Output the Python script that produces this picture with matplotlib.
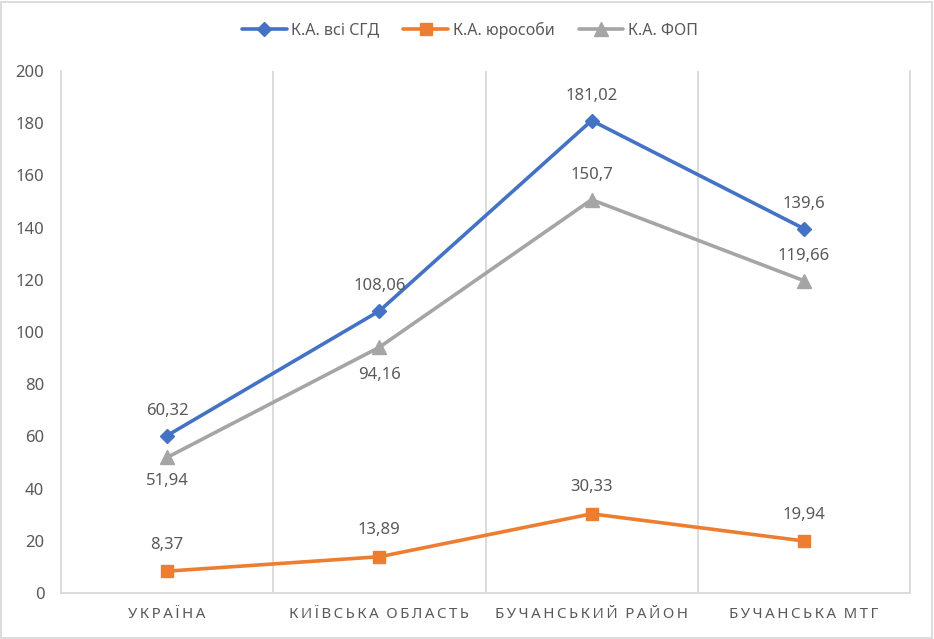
import matplotlib.pyplot as plt
from matplotlib.patches import Rectangle

categories = ['УКРАЇНА', 'КИЇВСЬКА ОБЛАСТЬ', 'БУЧАНСЬКИЙ РАЙОН', 'БУЧАНСЬКА МТГ']
series_names = ['К.А. всі СГД', 'К.А. юрособи', 'К.А. ФОП']
all_sgd = [60.32, 108.06, 181.02, 139.6]
legal = [8.37, 13.89, 30.33, 19.94]
fop = [51.94, 94.16, 150.7, 119.66]
y_ticks = [0, 20, 40, 60, 80, 100, 120, 140, 160, 180, 200]

plt.rcParams['font.family'] = ['Noto Sans', 'DejaVu Sans']
text_color = '#595959'
grid_color = '#d9d9d9'


def fmt(v):
    return ('%g' % v).replace('.', ',')


def spaced(s):
    return '\u2009'.join(s).replace('\u2009 \u2009', '\u2009\u2009\u2009')


fig = plt.figure(figsize=(9.34, 6.39), dpi=100)
ax = fig.add_axes([61 / 934, 1 - 593 / 639, 849 / 934, 522 / 639])

x = list(range(len(categories)))
styles = [
    (all_sgd, '#4472C4', 'D', 7.5),
    (legal, '#ED7D31', 's', 9),
    (fop, '#A5A5A5', '^', 9.5),
]
for (vals, color, marker, ms), name in zip(styles, series_names):
    ax.plot(x, vals, color=color, lw=2.6, marker=marker, ms=ms, label=name,
            solid_capstyle='round', zorder=3)

# data labels: above, except the grey series at the first two points
fs = 12
for i, v in enumerate(all_sgd):
    ax.annotate(fmt(v), (i, v), xytext=(0, 18), textcoords='offset points',
                ha='center', va='center', fontsize=fs, color=text_color)
for i, v in enumerate(legal):
    ax.annotate(fmt(v), (i, v), xytext=(0, 19), textcoords='offset points',
                ha='center', va='center', fontsize=fs, color=text_color)
fop_offsets = [-17, -20, 18, 18]
for i, v in enumerate(fop):
    ax.annotate(fmt(v), (i, v), xytext=(0, fop_offsets[i]), textcoords='offset points',
                ha='center', va='center', fontsize=fs, color=text_color)

ax.set_xlim(-0.5, len(categories) - 0.5)
ax.set_ylim(0, 200)
ax.set_yticks(y_ticks)
ax.set_xticks(x)
ax.set_xticklabels([spaced(c) for c in categories])
ax.tick_params(axis='y', length=0, pad=12, labelsize=12, labelcolor=text_color)
ax.tick_params(axis='x', length=0, pad=10, labelsize=10.8, labelcolor=text_color)

for xv in [0.5, 1.5, 2.5]:
    ax.axvline(xv, color=grid_color, lw=1.3, zorder=1)
for side in ['left', 'right', 'bottom']:
    ax.spines[side].set_color(grid_color)
    ax.spines[side].set_linewidth(1.3)
ax.spines['top'].set_visible(False)

fig.legend(loc='center', bbox_to_anchor=(470 / 934, 1 - 30 / 639), ncol=3,
           frameon=False, fontsize=11.5, handlelength=2.8, handletextpad=0.3,
           columnspacing=1.5, labelcolor=text_color)

fig.patches.append(Rectangle((0.001, 0.002), 0.997, 0.995, transform=fig.transFigure,
                             fill=False, edgecolor=grid_color, lw=1.3))

fig.savefig('out.png', dpi=100)
